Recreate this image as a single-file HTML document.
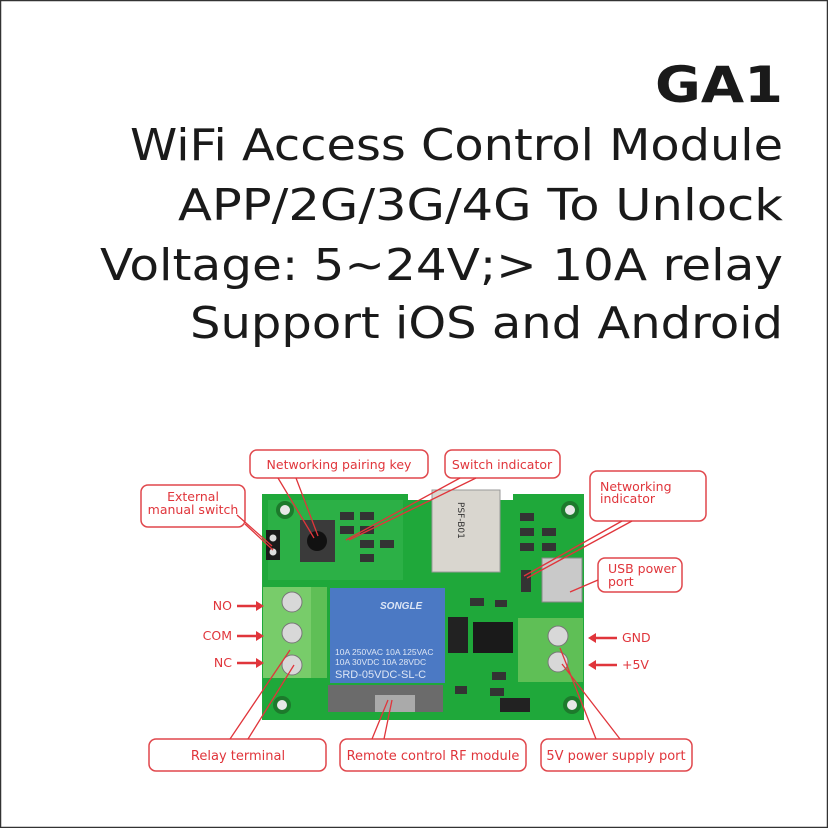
<!DOCTYPE html>
<html><head><meta charset="utf-8"><style>
html,body{margin:0;padding:0;background:#fff}
svg{display:block}
</style></head><body>
<svg width="828" height="828" viewBox="0 0 828 828" xmlns="http://www.w3.org/2000/svg" font-family="DejaVu Sans, Liberation Sans, sans-serif">
<rect x="0.5" y="0.5" width="827" height="827" fill="#fff" stroke="#333" stroke-width="1.5"/>
<g fill="#1a1a1a">
<text x="783" y="102" text-anchor="end" font-weight="bold" font-size="50" textLength="128" lengthAdjust="spacingAndGlyphs">GA1</text>
<text x="783" y="160" text-anchor="end" font-size="44" textLength="653" lengthAdjust="spacingAndGlyphs">WiFi Access Control Module</text>
<text x="783" y="220" text-anchor="end" font-size="44" textLength="605" lengthAdjust="spacingAndGlyphs">APP/2G/3G/4G To Unlock</text>
<text x="783" y="280" text-anchor="end" font-size="44" textLength="683" lengthAdjust="spacingAndGlyphs">Voltage: 5~24V;&gt; 10A relay</text>
<text x="783" y="338" text-anchor="end" font-size="44" textLength="593" lengthAdjust="spacingAndGlyphs">Support iOS and Android</text>
</g>
<!-- board -->
<path d="M262 494 H408 V500 H513 V494 H584 V720 H262 Z" fill="#1fa83a"/>
<rect x="268" y="500" width="135" height="80" fill="#2cb046"/>
<g fill="#1d7a2c"><circle cx="285" cy="510" r="9"/><circle cx="570" cy="510" r="9"/><circle cx="282" cy="705" r="9"/><circle cx="572" cy="705" r="9"/></g>
<g fill="#e8e8e8"><circle cx="285" cy="510" r="5"/><circle cx="570" cy="510" r="5"/><circle cx="282" cy="705" r="5"/><circle cx="572" cy="705" r="5"/></g>
<!-- module -->
<rect x="432" y="490" width="68" height="82" fill="#d9d6cf" stroke="#999"/>
<text x="458" y="502" font-size="9" fill="#333" transform="rotate(90 458 502)">PSF-B01</text>
<!-- smd parts -->
<g fill="#333">
<rect x="340" y="512" width="14" height="8"/><rect x="360" y="512" width="14" height="8"/><rect x="340" y="526" width="14" height="8"/><rect x="360" y="526" width="14" height="8"/><rect x="360" y="540" width="14" height="8"/><rect x="360" y="554" width="14" height="8"/><rect x="380" y="540" width="14" height="8"/>
<rect x="520" y="513" width="14" height="8"/><rect x="520" y="528" width="14" height="8"/><rect x="542" y="528" width="14" height="8"/><rect x="520" y="543" width="14" height="8"/><rect x="542" y="543" width="14" height="8"/>
<rect x="470" y="598" width="14" height="8"/><rect x="495" y="600" width="12" height="7"/><rect x="492" y="672" width="14" height="8"/><rect x="490" y="688" width="14" height="8"/><rect x="455" y="686" width="12" height="8"/>
<rect x="500" y="698" width="30" height="14" fill="#222"/>
<rect x="448" y="617" width="20" height="36" fill="#222"/>
<rect x="473" y="622" width="40" height="31" fill="#1a1a1a"/>
<rect x="521" y="570" width="10" height="22"/>
</g>
<!-- header pins -->
<rect x="266" y="530" width="14" height="30" fill="#1a1a1a"/><circle cx="273" cy="538" r="3.5" fill="#ddd"/><circle cx="273" cy="552" r="3.5" fill="#ddd"/>
<!-- button -->
<rect x="300" y="520" width="35" height="42" fill="#3a3a3a"/><circle cx="317" cy="541" r="10" fill="#111"/>
<!-- usb -->
<rect x="542" y="558" width="40" height="44" fill="#c9c9c9" stroke="#888"/>
<!-- left terminal -->
<rect x="263" y="587" width="64" height="91" fill="#5fbf56"/><rect x="263" y="587" width="48" height="91" fill="#78cc6a"/>
<g fill="#d8d8d8" stroke="#777"><circle cx="292" cy="602" r="10"/><circle cx="292" cy="633" r="10"/><circle cx="292" cy="665" r="10"/></g>
<!-- relay -->
<rect x="330" y="588" width="115" height="95" fill="#4b79c4"/>
<g fill="#dde6f5" font-family="Liberation Sans, sans-serif">
<text x="380" y="609" font-size="10" font-style="italic" font-weight="bold">SONGLE</text>
<text x="335" y="655" font-size="8.5">10A 250VAC 10A 125VAC</text>
<text x="335" y="665" font-size="8.5">10A  30VDC 10A  28VDC</text>
<text x="335" y="678" font-size="11">SRD-05VDC-SL-C</text>
</g>
<rect x="328" y="685" width="115" height="27" fill="#6b6b6b"/><rect x="375" y="695" width="40" height="17" fill="#aaa"/>
<!-- right terminal -->
<rect x="518" y="618" width="65" height="64" fill="#5fbf56"/>
<g fill="#d8d8d8" stroke="#777"><circle cx="558" cy="636" r="10"/><circle cx="558" cy="662" r="10"/></g>
<!-- callout boxes -->
<g fill="#fff" stroke="#e0474c" stroke-width="1.5">
<rect x="141" y="485" width="104" height="42" rx="7"/>
<rect x="250" y="450" width="178" height="28" rx="7"/>
<rect x="445" y="450" width="115" height="28" rx="7"/>
<rect x="590" y="471" width="116" height="50" rx="7"/>
<rect x="598" y="558" width="84" height="34" rx="7"/>
<rect x="149" y="739" width="177" height="32" rx="7"/>
<rect x="340" y="739" width="186" height="32" rx="7"/>
<rect x="541" y="739" width="151" height="32" rx="7"/>
</g>
<g fill="#e0353b" font-family="DejaVu Sans, sans-serif" font-size="12.5">
<text x="193" y="501" text-anchor="middle">External</text>
<text x="193" y="514" text-anchor="middle">manual switch</text>
<text x="339" y="469" text-anchor="middle">Networking pairing key</text>
<text x="502" y="469" text-anchor="middle">Switch indicator</text>
<text x="600" y="491">Networking</text>
<text x="600" y="503">indicator</text>
<text x="608" y="573">USB power</text>
<text x="608" y="586">port</text>
<text x="238" y="760" text-anchor="middle" font-size="13">Relay terminal</text>
<text x="433" y="760" text-anchor="middle" font-size="13">Remote control RF module</text>
<text x="616" y="760" text-anchor="middle" font-size="13">5V power supply port</text>
<text x="232" y="610" text-anchor="end">NO</text>
<text x="232" y="640" text-anchor="end">COM</text>
<text x="232" y="667" text-anchor="end">NC</text>
<text x="622" y="642">GND</text>
<text x="622" y="669">+5V</text>
</g>
<g stroke="#e0353b" stroke-width="1.3" fill="none">
<path d="M237 515 L272 546 M245 524 L273 550"/>
<path d="M278 478 L314 538 M296 478 L318 536"/>
<path d="M460 478 L346 540 M476 478 L349 540"/>
<path d="M622 521 L524 576 M632 521 L527 578"/>
<path d="M598 580 L570 592"/>
<path d="M230 739 L290 650 M248 739 L294 665"/>
<path d="M372 739 L388 700 M384 739 L392 700"/>
<path d="M596 739 L560 648 M620 739 L562 664"/>
<path d="M237 606 H258 M237 636 H258 M237 663 H258 M617 638 H596 M617 665 H596" stroke-width="2.5"/>
</g>
<g fill="#e0353b">
<path d="M264 606 l-8 -5 v10z M264 636 l-8 -5 v10z M264 663 l-8 -5 v10z M588 638 l8 -5 v10z M588 665 l8 -5 v10z"/>
</g>
</svg>
</body></html>
